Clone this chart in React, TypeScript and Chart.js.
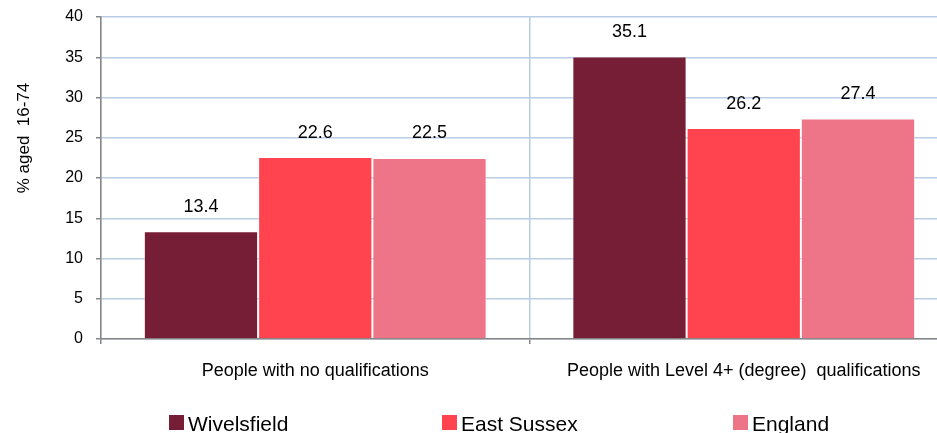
import React, { useEffect, useRef } from "react";
import { Chart, registerables } from "chart.js";

Chart.register(...registerables);

const categories = ["People with no qualifications", "People with Level 4+ (degree)  qualifications"];
const seriesNames = ["Wivelsfield", "East Sussex", "England"];
const wivelsfield = [13.4, 35.1];
const eastSussex = [22.6, 26.2];
const england = [22.5, 27.4];
const seriesColors = ["#761E35", "#FF444F", "#EE7488"];
const yTicks = [0, 5, 10, 15, 20, 25, 30, 35, 40];
const yTitle = "% aged  16-74";

const FONT = "'Liberation Sans', Arial, sans-serif";

const valueLabels = {
  id: "valueLabels",
  afterDatasetsDraw(chart: any) {
    const ctx = chart.ctx;
    ctx.save();
    ctx.font = `18px ${FONT}`;
    ctx.fillStyle = "#000";
    ctx.textAlign = "center";
    ctx.textBaseline = "alphabetic";
    chart.data.datasets.forEach((ds: any, di: number) => {
      const meta = chart.getDatasetMeta(di);
      meta.data.forEach((bar: any, i: number) => {
        ctx.fillText(ds.data[i].toFixed(1), bar.x, bar.y - 19.5);
      });
    });
    ctx.restore();
  },
};

const customLegend = {
  id: "customLegend",
  afterDraw(chart: any) {
    const ctx = chart.ctx;
    const xs = [169, 442, 733];
    ctx.save();
    ctx.font = `21px ${FONT}`;
    ctx.textBaseline = "alphabetic";
    ctx.textAlign = "left";
    chart.data.datasets.forEach((ds: any, di: number) => {
      const x = xs[di];
      ctx.fillStyle = ds.backgroundColor;
      ctx.fillRect(x, 415, 15, 15);
      ctx.fillStyle = "#000";
      ctx.fillText(ds.label, x + 19, 431);
    });
    // y axis title
    ctx.translate(24, 138);
    ctx.rotate(-Math.PI / 2);
    ctx.font = `17px ${FONT}`;
    ctx.textAlign = "center";
    ctx.textBaseline = "middle";
    ctx.fillStyle = "#000";
    ctx.fillText(yTitle, 0, 0);
    ctx.restore();
  },
};

export default function App() {
  const ref = useRef<HTMLCanvasElement>(null);
  useEffect(() => {
    if (!ref.current) return;
    const values = [wivelsfield, eastSussex, england];
    const chart = new Chart(ref.current, {
      type: "bar",
      data: {
        labels: categories,
        datasets: seriesNames.map((name, i) => ({
          label: name,
          data: values[i],
          backgroundColor: seriesColors[i],
          borderColor: "rgba(255,255,255,0.35)",
          borderWidth: 1,
          categoryPercentage: 0.8,
          barPercentage: 1,
        })),
      },
      options: {
        responsive: false,
        animation: false,
        devicePixelRatio: 1,
        layout: { padding: { top: 17, right: 2, left: 0, bottom: 0 } },
        plugins: {
          legend: { display: false },
          tooltip: { enabled: false },
        },
        scales: {
          x: {
            afterFit: (s: any) => {
              s.height = 94;
              s.paddingLeft = 0;
              s.paddingRight = 0;
            },
            grid: {
              offset: true,
              color: "#B9CDE5",
              tickColor: "#868686",
              tickLength: 5,
              lineWidth: 1.5,
              tickWidth: 1.5,
            },
            border: { color: "#868686", width: 1.5 },
            ticks: {
              padding: 16,
              color: "#000",
              font: { family: FONT, size: 18 },
              maxRotation: 0,
              autoSkip: false,
            },
          },
          y: {
            min: 0,
            max: 40,
            afterFit: (s: any) => {
              s.width = 101;
              s.paddingTop = 0;
              s.paddingBottom = 0;
            },
            afterBuildTicks: (s: any) => {
              s.ticks = yTicks.map((v) => ({ value: v }));
            },
            grid: {
              color: "#B9CDE5",
              tickColor: "#868686",
              tickLength: 5,
              lineWidth: 1.5,
              tickWidth: 1.5,
            },
            border: { color: "#868686", width: 1.5 },
            ticks: {
              padding: 13,
              color: "#000",
              font: { family: FONT, size: 16 },
            },
          },
        },
      },
      plugins: [valueLabels, customLegend],
    });
    return () => chart.destroy();
  }, []);
  return (
    <div
      style={{
        position: "fixed",
        left: 0,
        top: 0,
        width: 937,
        height: 433,
        overflow: "hidden",
        background: "#fff",
      }}
    >
      <canvas ref={ref} width={960} height={433} style={{ display: "block", width: 960, height: 433 }} />
    </div>
  );
}
